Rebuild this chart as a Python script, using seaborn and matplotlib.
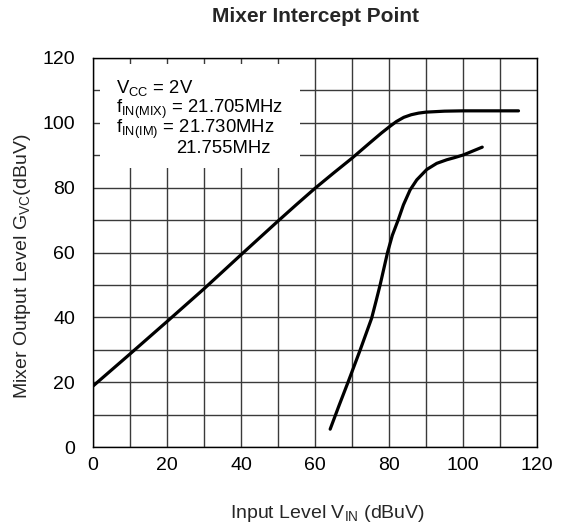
import matplotlib
matplotlib.use("Agg")
import matplotlib.pyplot as plt
from matplotlib.patches import Rectangle
import numpy as np
import pandas as pd
import seaborn as sns

# Mixer output vs. input level (dBuV)
mix_in = [0, 10, 20, 30, 40, 50, 55, 60, 65, 70, 75, 78, 80, 82, 84, 86, 88, 90, 95, 100, 115]
mix_out = [18.8, 28.7, 38.7, 48.8, 59.3, 69.7, 74.8, 79.8, 84.5, 89.1, 94.0, 96.9, 98.7,
           100.4, 101.7, 102.5, 103.0, 103.3, 103.6, 103.7, 103.7]

# Intermodulation product vs. input level (dBuV)
im_in = [64.1, 66.5, 69.0, 72.2, 75.3, 76.5, 77.6, 78.6, 79.6, 80.9, 82.5, 83.9,
         85.7, 87.5, 90.2, 92.9, 95.6, 97.8, 100.1, 105.2]
im_out = [5.5, 12.8, 20.2, 29.9, 39.7, 45.0, 50.0, 55.0, 60.0, 65.3, 70.1, 74.7,
          79.3, 82.4, 85.6, 87.5, 88.6, 89.3, 90.1, 92.5]

x_ticks = [0, 20, 40, 60, 80, 100, 120]
y_ticks = [0, 20, 40, 60, 80, 100, 120]

sns.set_theme(style="white")
plt.rcParams["font.family"] = ["Liberation Sans", "DejaVu Sans"]
plt.rcParams["mathtext.fontset"] = "custom"
plt.rcParams["mathtext.rm"] = "Liberation Sans"
plt.rcParams["mathtext.it"] = "Liberation Sans"
plt.rcParams["mathtext.bf"] = "Liberation Sans:bold"

df = pd.concat([
    pd.DataFrame({"vin": mix_in, "out": mix_out, "curve": "mix"}),
    pd.DataFrame({"vin": im_in, "out": im_out, "curve": "im"}),
])

fig = plt.figure(figsize=(5.66, 5.31), dpi=100)
ax = fig.add_axes([93 / 566, 1 - 447 / 531, 444 / 566, 389 / 531])

sns.lineplot(data=df, x="vin", y="out", units="curve", estimator=None,
             color="black", linewidth=2.3, sort=False, ax=ax, legend=False,
             solid_capstyle="round", solid_joinstyle="round", zorder=3)

ax.set_xlim(0, 120)
ax.set_ylim(0, 120)
ax.set_xticks(np.arange(0, 121, 10), minor=True)
ax.set_yticks(np.arange(0, 121, 10), minor=True)
ax.set_xticks(x_ticks)
ax.set_yticks(y_ticks)
ax.grid(which="both", color="#3a3a3a", linewidth=1.0)
ax.set_axisbelow(True)
ax.tick_params(which="both", length=0, labelsize=14, colors="black")
ax.tick_params(axis="x", pad=7)
ax.tick_params(axis="y", pad=13)
for s in ax.spines.values():
    s.set_color("black")
    s.set_linewidth(1.0)

# White panel behind the test conditions
ax.add_patch(Rectangle((2, 86), 54, 32, facecolor="white", edgecolor="none", zorder=1))
tkw = dict(fontsize=13.3, color="black", ha="left", va="baseline", zorder=4)
ax.text(6.2, 109.2, r"V$_{\rm CC}$ = 2V", **tkw)
ax.text(6.2, 103.0, r"f$_{\rm IN(MIX)}$ = 21.705MHz", **tkw)
ax.text(6.2, 96.8, r"f$_{\rm IN(IM)}$ = 21.730MHz", **tkw)
ax.text(22.6, 90.6, "21.755MHz", **tkw)

ax.set_xlabel(r"Input Level V$_{\rm IN}$ (dBuV)", fontsize=14)
ax.set_ylabel(r"Mixer Output Level G$_{\rm VC}$(dBuV)", fontsize=14)
ax.xaxis.set_label_coords(0.529, -0.144)
ax.yaxis.set_label_coords(-0.135, 0.465)
ax.set_title("Mixer Intercept Point", fontsize=15, fontweight="bold", pad=26)

fig.savefig("out.png", dpi=100)
